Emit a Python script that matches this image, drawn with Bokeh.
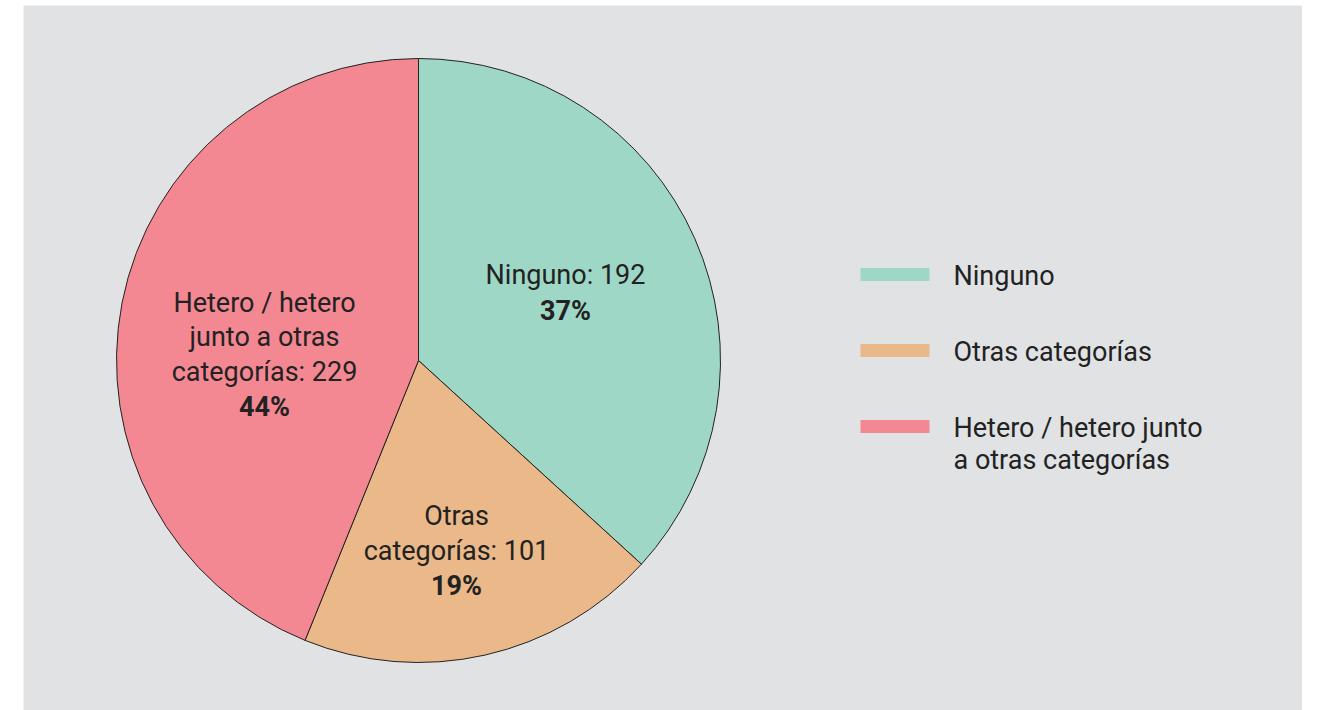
import math
from bokeh.plotting import figure
from bokeh.models import Range1d, ColumnDataSource
from bokeh.core.properties import value
from bokeh.embed import file_html
from bokeh.resources import INLINE

categories = ["Ninguno", "Otras categorías", "Hetero / hetero junto a otras categorías"]
counts = [192, 101, 229]
colors = ["#9FD7C6", "#EAB889", "#F38893"]
legend_lines = [["Ninguno"], ["Otras categorías"], ["Hetero / hetero junto", "a otras categorías"]]
label_lines = [["Ninguno: 192"], ["Otras", "categorías: 101"], ["Hetero / hetero", "junto a otras", "categorías: 229"]]

W, H = 1302, 710
LEFT, TOP = 23, 5
PW, PH = W - LEFT, H - TOP
p = figure(width=W, height=H, output_backend="svg", toolbar_location=None,
           x_range=Range1d(0, PW), y_range=Range1d(0, PH),
           min_border_left=LEFT, min_border_right=0, min_border_top=TOP, min_border_bottom=0)
p.axis.visible = False
p.grid.visible = False
p.outline_line_color = None
p.background_fill_color = "#E1E2E4"
p.border_fill_color = "white"

def X(px):
    return px - LEFT
def Y(py):
    return PH - (py - TOP)

cx, cy, R = X(418), Y(360), 302
total = sum(counts)
starts, ends = [], []
a = math.pi / 2
for c in counts:
    starts.append(a)
    a -= 2 * math.pi * c / total
    ends.append(a)
pcts = [f"{round(100 * c / total)}%" for c in counts]

src = ColumnDataSource(dict(start=starts, end=ends, color=colors))
p.wedge(x=cx, y=cy, radius=R, start_angle="start", end_angle="end", direction="clock",
        fill_color="color", line_color="#222222", line_width=1, source=src)

FS = "27px"
label_pos = [(565, 292), (456, 550), (264, 354)]
LH = 34.5
font = value("Roboto")
tx, ty, tt = [], [], []
bx, by, bt = [], [], []
for (px, py), lines, pc in zip(label_pos, label_lines, pcts):
    n = len(lines) + 1
    top = py - (n - 1) * LH / 2
    for i, ln in enumerate(lines):
        tx.append(X(px)); ty.append(Y(top + i * LH)); tt.append(ln)
    bx.append(X(px)); by.append(Y(top + len(lines) * LH + 1)); bt.append(pc)
p.text(x=tx, y=ty, text=tt, text_font=font, text_font_size=FS, text_color="#222222",
       text_align="center", text_baseline="middle")
p.text(x=bx, y=by, text=bt, text_font=font, text_font_size=FS, text_color="#222222",
       text_font_style="bold", text_align="center", text_baseline="middle")

leg_y = [274, 350, 426]
p.rect(x=[X(894.5)] * 3, y=[Y(v) for v in leg_y], width=69, height=13,
       fill_color=colors, line_color=None)
lx, ly, lt = [], [], []
for yy, lines in zip(leg_y, legend_lines):
    for i, ln in enumerate(lines):
        lx.append(X(953)); ly.append(Y(yy + 1 + i * 32)); lt.append(ln)
p.text(x=lx, y=ly, text=lt, text_font=font, text_font_size=FS, text_color="#222222",
       text_align="left", text_baseline="middle")

open("out.html", "w").write(file_html(p, INLINE))
